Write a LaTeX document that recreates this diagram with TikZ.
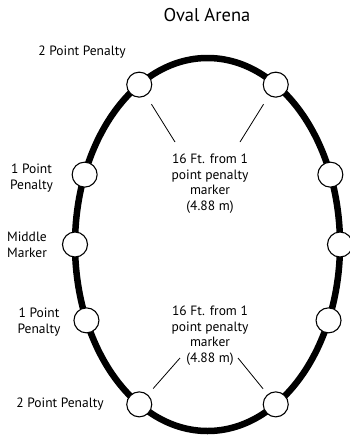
\documentclass[tikz,border=0pt]{standalone}
\usepackage{fontspec}
\setmainfont{PT Sans}
\usetikzlibrary{calc}
\begin{document}
\begin{tikzpicture}[
  x=1pt, y=-1pt,
  pista/.style={line width=6.5pt},
  marca/.style={draw=black, line width=1.1pt, fill=white, circle, minimum size=25pt, inner sep=0pt},
  rotulo/.style={align=center, inner sep=0pt, font=\fontsize{13.5}{15.5}\selectfont},
  guia/.style={line width=0.8pt}
]
\useasboundingbox (0,0) rectangle (350,437);
\coordinate (c) at (207.5,244.5);
\draw[pista] (c) ellipse [x radius=132.5, y radius=186.5];
% markers on the oval
\foreach \nombre/\ang in {pi1/121, pd1/59, pi2/158, pd2/22, mi/180, md/0,
                          pi3/204, pd3/336, pi4/239, pd4/301}
  \node[marca] (\nombre) at ($(c)+({132.5*cos(\ang)},{-186.5*sin(\ang)})$) {};
% labels
\node[font=\fontsize{18.5}{20}\selectfont, inner sep=0pt] (titulo) at (207,15) {Oval Arena};
\node[rotulo] (l1) at (82,52) {2 Point Penalty};
\node[rotulo] (l2) at (31.5,178) {1 Point\\Penalty};
\node[rotulo] (l3) at (27,245) {Middle\\Marker};
\node[rotulo] (l4) at (39,322) {1 Point\\Penalty};
\node[rotulo] (l5) at (60,404) {2 Point Penalty};
\node[rotulo] (t1) at (210,183.5) {16 Ft. from 1\\point penalty\\marker\\(4.88 m)};
\node[rotulo] (t2) at (210,335.5) {16 Ft. from 1\\point penalty\\marker\\(4.88 m)};
% leader lines
\coordinate (g1) at (175,142);
\coordinate (g2) at (240,142);
\coordinate (g3) at (180,358);
\coordinate (g4) at (238,358);
\draw[guia, shorten <=10pt] (pi1) -- (g1);
\draw[guia, shorten <=10pt] (pd1) -- (g2);
\draw[guia, shorten <=8pt] (pi4) -- (g3);
\draw[guia, shorten <=7pt] (pd4) -- (g4);
\end{tikzpicture}
\end{document}
